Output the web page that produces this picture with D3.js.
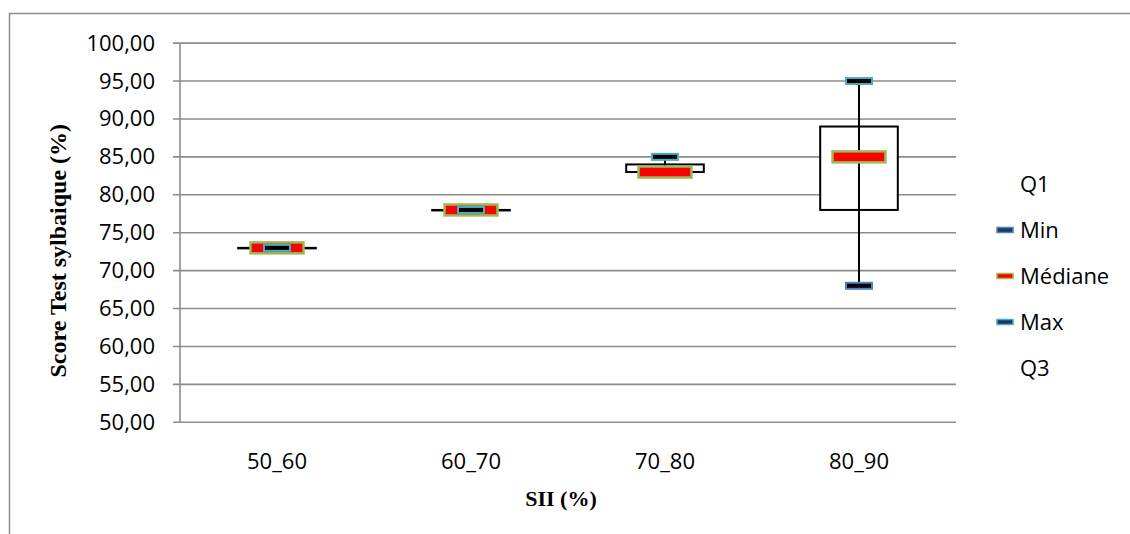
<!DOCTYPE html>
<html><head><meta charset="utf-8">
<script src="https://cdn.jsdelivr.net/npm/d3@7"></script>
<style>body{margin:0;background:#fff}svg{display:block}</style>
</head><body>
<script>
const categories = ["50_60","60_70","70_80","80_90"];
const q1Values = [73, 78, 83, 78];
const minValues = [73, 78, 83, 68];
const medianValues = [73, 78, 83, 85];
const maxValues = [73, 78, 85, 95];
const q3Values = [73, 78, 84, 89];
const yTicks = [50,55,60,65,70,75,80,85,90,95,100];
const legendLabels = ["Q1","Min","Médiane","Max","Q3"];

const W = 1130, H = 534;
const svg = d3.select("body").append("svg").attr("width", W).attr("height", H);
svg.append("rect").attr("x",9.5).attr("y",13.5).attr("width",1140).attr("height",560)
  .attr("fill","#fff").attr("stroke","#8c8c8c").attr("stroke-width",1.5);

const x0 = 180, x1 = 956, yTop = 43.1, yBot = 422.3;
const x = d3.scaleBand().domain(categories).range([x0, x1]);
const y = d3.scaleLinear().domain([50,100]).range([yBot, yTop]);
const fmt = v => d3.format(".2f")(v).replace(".", ",");
const sans = "Open Sans, sans-serif";

// gridlines
svg.append("g").selectAll("line").data(yTicks).join("line")
  .attr("x1", x0-7).attr("x2", x1).attr("y1", d=>y(d)).attr("y2", d=>y(d))
  .attr("stroke","#8c8c8c").attr("stroke-width",1.6);
svg.append("line").attr("x1",x0).attr("x2",x0).attr("y1",yTop).attr("y2",yBot)
  .attr("stroke","#8c8c8c").attr("stroke-width",1.6);

const yAxis = d3.axisLeft(y).tickValues(yTicks).tickFormat(fmt).tickSize(0).tickPadding(25);
const gy = svg.append("g").attr("transform",`translate(${x0},0)`).call(yAxis);
gy.select(".domain").remove();
gy.selectAll("text").attr("font-family",sans).attr("font-size",22).attr("fill","#000");

const xAxis = d3.axisBottom(x).tickSize(0).tickPadding(31);
const gx = svg.append("g").attr("transform",`translate(0,${yBot})`).call(xAxis);
gx.select(".domain").remove();
gx.selectAll("text").attr("font-family",sans).attr("font-size",22).attr("fill","#000");

// titles
svg.append("text").attr("transform",`translate(66,${(yTop+yBot)/2 + 18}) rotate(-90)`)
  .attr("text-anchor","middle").attr("font-family","Liberation Serif, serif").attr("font-weight","bold")
  .attr("font-size",24).text("Score Test sylbaique (%)");
svg.append("text").attr("x",561).attr("y",506).attr("text-anchor","middle")
  .attr("font-family","Liberation Serif, serif").attr("font-weight","bold")
  .attr("font-size",22).text("SII (%)");

const idx = d3.range(categories.length);
const cx = i => x(categories[i]) + x.bandwidth()/2;
const bw = x.bandwidth()*0.4;

// up-down bars
svg.append("g").selectAll("rect").data(idx).join("rect")
  .attr("x",i=>cx(i)-bw/2).attr("width",bw)
  .attr("y",i=>y(Math.max(q1Values[i],q3Values[i])))
  .attr("height",i=>Math.max(0.5, Math.abs(y(q1Values[i])-y(q3Values[i]))))
  .attr("fill","#fff").attr("stroke","#000").attr("stroke-width",2);
// high-low lines
svg.append("g").selectAll("line").data(idx).join("line")
  .attr("x1",cx).attr("x2",cx).attr("y1",i=>y(maxValues[i])).attr("y2",i=>y(minValues[i]))
  .attr("stroke","#000").attr("stroke-width",2);

function markers(vals, w, h, fill, stroke, sw){
  svg.append("g").selectAll("rect").data(idx).join("rect")
    .attr("x",i=>cx(i)-w/2).attr("y",i=>y(vals[i])-h/2).attr("width",w).attr("height",h)
    .attr("fill",fill).attr("stroke",stroke).attr("stroke-width",sw);
}
markers(minValues, 26, 6, "#000", "#4f81bd", 2);
markers(medianValues, 53, 11, "#ff0000", "#9bbb59", 2.5);
markers(maxValues, 26, 6, "#000", "#4bacc6", 2);

// legend
const ly0 = 184, ldy = 46;
const lg = svg.append("g");
const legendStyles = [null, ["#1f3864","#4f81bd"], ["#ff0000","#9bbb59"], ["#17375e","#4bacc6"], null];
legendLabels.forEach((lab,i)=>{
  const yy = ly0 + i*ldy;
  if (legendStyles[i]) {
    lg.append("rect").attr("x",997).attr("y",yy-2.5).attr("width",16).attr("height",5)
      .attr("fill",legendStyles[i][0]).attr("stroke",legendStyles[i][1]).attr("stroke-width",1.5);
  }
  lg.append("text").attr("x",1020).attr("y",yy).attr("dy","0.35em")
    .attr("font-family",sans).attr("font-size",22).attr("fill","#000").text(lab);
});
</script>
</body></html>
